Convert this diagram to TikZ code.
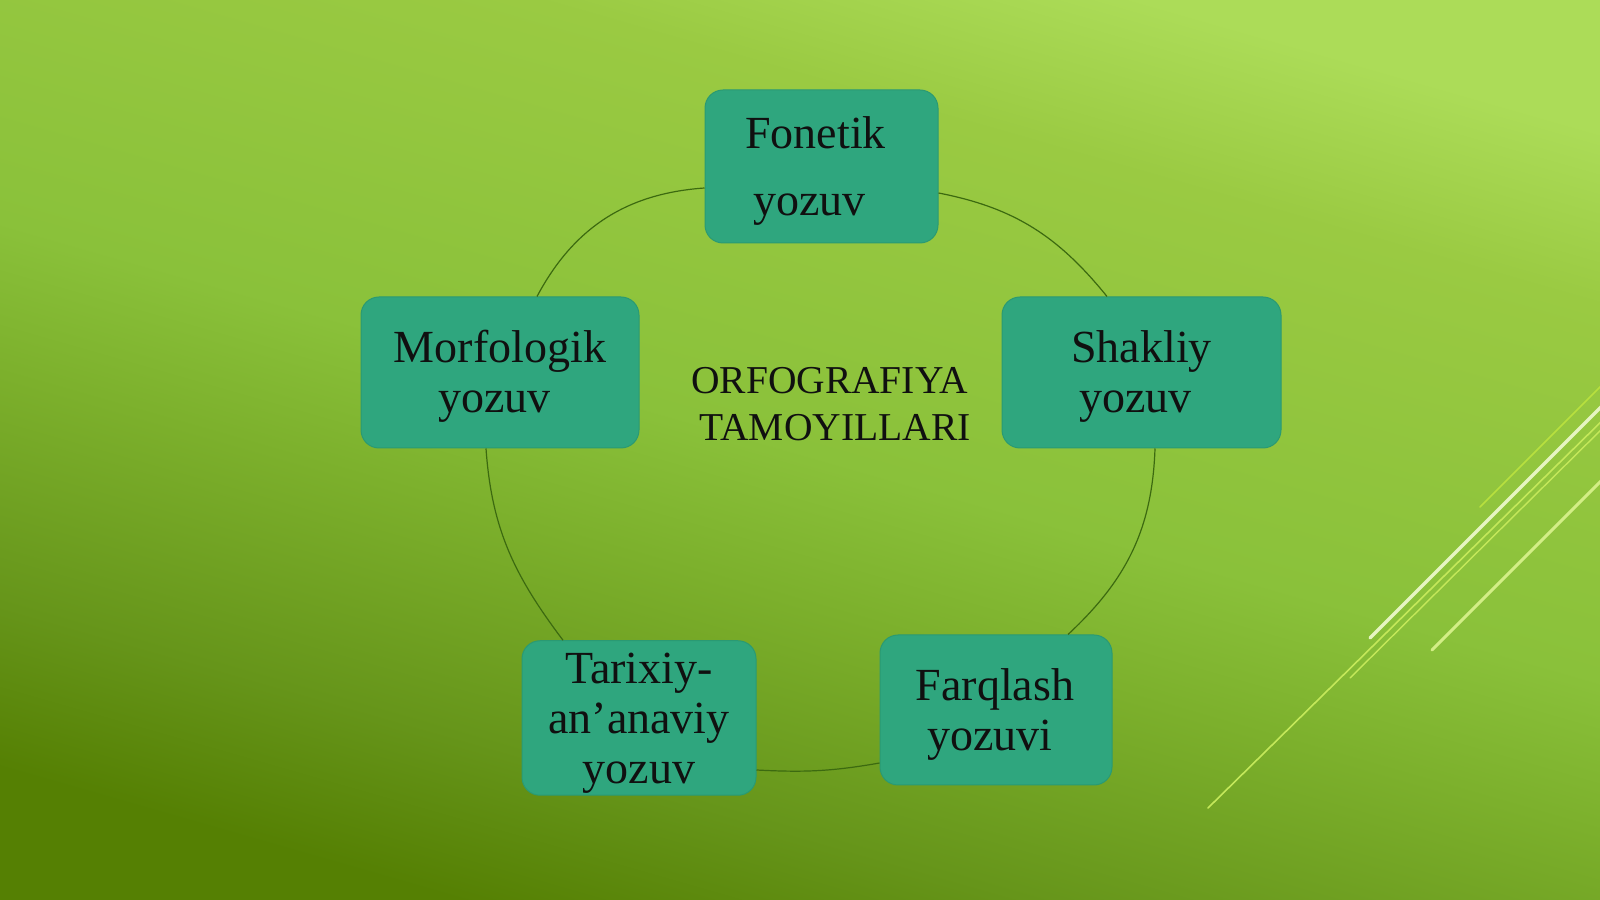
\documentclass[tikz,border=0pt]{standalone}
\usepackage{fontspec}
\setmainfont{Liberation Serif}
\definecolor{bgA}{HTML}{558003}
\definecolor{bgB}{HTML}{66951A}
\definecolor{bgC}{HTML}{7CB02C}
\definecolor{bgD}{HTML}{8AC13A}
\definecolor{bgE}{HTML}{9ACA42}
\definecolor{bgF}{HTML}{ACDC58}
\definecolor{boxfill}{HTML}{2FA67E}
\definecolor{boxedge}{HTML}{2A9A73}
\definecolor{txt}{HTML}{101010}
\definecolor{ringc}{HTML}{3C6A10}
\definecolor{streakW}{HTML}{E6F5C2}
\definecolor{streakY}{HTML}{D3EE86}
\definecolor{streakG}{HTML}{C4E85A}
\definecolor{streakH}{HTML}{B8E03E}
\pgfdeclareverticalshading{bgshade}{100bp}{color(0bp)=(bgA); color(25bp)=(bgA); color(32.5bp)=(bgB); color(43bp)=(bgC); color(50bp)=(bgD); color(67bp)=(bgE); color(75bp)=(bgF); color(100bp)=(bgF)}
\begin{document}
\begin{tikzpicture}[x=1pt,y=1pt,
  box/.style={draw=boxedge, line width=1pt, fill=boxfill, rounded corners=18pt,
    inner sep=0pt, align=center, text=txt, font=\fontsize{46}{50}\selectfont},
  title/.style={inner sep=0pt, align=center, text=txt, font=\fontsize{39.5}{47}\selectfont},
  ring/.style={draw=ringc, line width=1.2pt},
  streak/.style={line cap=round}]
\useasboundingbox (0,0) rectangle (1600,899);
\shade[shading=bgshade, shading angle=-16] (0,0) rectangle (1600,899);

% decorative streaks
\draw[streak, draw=streakG, line width=1.6pt] (1208,91) -- (1610,486);
\draw[streak, draw=streakG, line width=1.4pt] (1350,221) -- (1610,478);
\draw[streak, draw=streakW, line width=3.5pt] (1370,261) -- (1610,501);
\draw[streak, draw=streakY, line width=3pt] (1432,249) -- (1610,427);
\draw[streak, draw=streakH, line width=1.5pt] (1480,392) -- (1610,522);

% boxes
\node[box, minimum width=233pt, minimum height=153pt] (fon) at (821.5,732.5)
  {\rule{0pt}{42.5pt}Fonetik\hbox to 12pt{}\\[17pt]yozuv\hbox to 24pt{}\rule[-12pt]{0pt}{12pt}};
\node[box, minimum width=278pt, minimum height=151pt] (mor) at (500,526.5)
  {\rule{0pt}{42.5pt}Morfologik\\yozuv\hbox to 11pt{}\rule[-12pt]{0pt}{12pt}};
\node[box, minimum width=279pt, minimum height=151pt] (sha) at (1141.5,526.5)
  {\rule{0pt}{42.5pt}Shakliy\\yozuv\hbox to 12pt{}\rule[-12pt]{0pt}{12pt}};
\node[box, minimum width=232pt, minimum height=150pt] (far) at (996,189)
  {\rule{0pt}{42.5pt}Farqlash\hbox to 2pt{}\\yozuvi\hbox to 12pt{}\rule[-12pt]{0pt}{12pt}};
\node[box, minimum width=234pt, minimum height=150pt] (tar) at (639,181)
  {\rule{0pt}{42.5pt}Tarixiy-\\an’anaviy\\yozuv\rule[-12pt]{0pt}{12pt}};

% centre title
\node[title] (ttl) at (832,495)
  {\rule{0pt}{36.1pt}ORFOGRAFIYA\hbox to 5pt{}\\\hbox to 6pt{}TAMOYILLARI\rule[-10pt]{0pt}{10pt}};

% cycle arcs
\draw[ring] ([yshift=-26.5pt]fon.east) to[out=-11,in=129] ([xshift=-34.5pt]sha.north);
\draw[ring] ([xshift=13.5pt]sha.south) to[out=-92,in=43] ([xshift=72pt]far.north);
\draw[ring] ([yshift=-53pt]far.west) to[out=190,in=-3] ([yshift=-52pt]tar.east);
\draw[ring] ([xshift=-76pt]tar.north) to[out=127,in=-86] ([xshift=-14pt]mor.south);
\draw[ring] ([xshift=37pt]mor.north) to[out=62,in=-176] ([yshift=-21.5pt]fon.west);
\end{tikzpicture}
\end{document}
